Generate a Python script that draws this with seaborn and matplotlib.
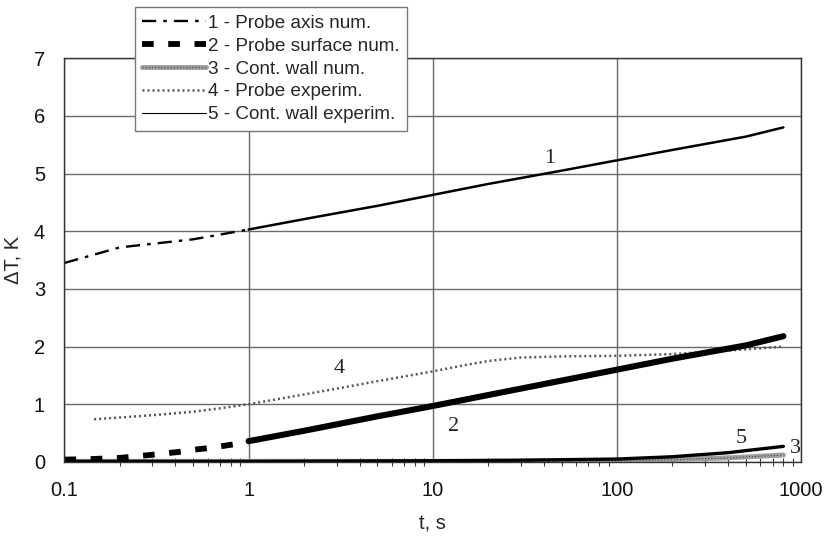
import numpy as np
import pandas as pd
import seaborn as sns
import matplotlib.pyplot as plt
from matplotlib.lines import Line2D

# ----------------------------
# Valori (t in s, dT in K)
# ----------------------------
# 1 - Probe axis num. (tratto rado fino a t=1, poi fitto)
t1_rado = [0.1, 0.2, 0.5, 1.0]
dT1_rado = [3.45, 3.72, 3.86, 4.03]
t1_fitto = [1.0, 2.0, 5.0, 10.0, 20.0, 50.0, 100.0, 200.0, 500.0, 800.0]
dT1_fitto = [4.03, 4.21, 4.44, 4.63, 4.82, 5.05, 5.23, 5.41, 5.64, 5.8]

# 2 - Probe surface num.
t2_rado = [0.1, 0.14, 0.2, 0.29, 0.41, 0.53, 0.65, 0.77, 0.94, 1.0]
dT2_rado = [0.04, 0.05, 0.07, 0.12, 0.17, 0.22, 0.25, 0.29, 0.33, 0.36]
t2_fitto = [1.0, 2.0, 5.0, 10.0, 20.0, 50.0, 100.0, 200.0, 500.0, 800.0]
dT2_fitto = [0.36, 0.54, 0.79, 0.97, 1.16, 1.41, 1.60, 1.79, 2.02, 2.18]

# 3 - Cont. wall num.
t3 = [0.1, 1.0, 10.0, 50.0, 100.0, 200.0, 400.0, 800.0]
dT3 = [0.01, 0.01, 0.01, 0.01, 0.02, 0.04, 0.07, 0.12]

# 4 - Probe experim.
t4 = [0.145, 0.2, 0.3, 0.5, 0.7, 1.0, 2.0, 3.0, 5.0, 10.0, 15.0, 20.0,
      30.0, 50.0, 100.0, 200.0, 400.0, 800.0]
dT4 = [0.74, 0.77, 0.81, 0.87, 0.93, 1.00, 1.17, 1.27, 1.40, 1.57, 1.68,
       1.75, 1.81, 1.83, 1.84, 1.87, 1.93, 2.00]

# 5 - Cont. wall experim.
t5 = [0.1, 1.0, 10.0, 30.0, 100.0, 200.0, 400.0, 800.0]
dT5 = [0.01, 0.01, 0.02, 0.03, 0.05, 0.09, 0.16, 0.27]

legend_labels = ["1 - Probe axis num.", "2 - Probe surface num.",
                 "3 - Cont. wall num.", "4 - Probe experim.",
                 "5 - Cont. wall experim."]

x_ticks = [0.1, 1, 10, 100, 1000]
x_ticklabels = ["0.1", "1", "10", "100", "1000"]
y_ticks = [0, 1, 2, 3, 4, 5, 6, 7]

sns.set_theme(style="white")
plt.rcParams["font.family"] = ["Liberation Sans", "DejaVu Sans"]

fig = plt.figure(figsize=(8.26, 5.39), dpi=100)
ax = fig.add_axes([0.078, 0.143, 0.892, 0.749])


def linea(t, v, **kw):
    sns.lineplot(x=t, y=v, ax=ax, sort=False, estimator=None, legend=False, **kw)
    return ax.lines[-1]


# curva 3 (grigia, "testurizzata")
h3a = linea(t3, dT3, color="#a0a0a0", linewidth=3.6)
h3b = linea(t3, dT3, color="#505050", linewidth=0.9)
h3b.set_dashes((1, 1.5))

# curva 5
h5 = linea(t5, dT5, color="black", linewidth=2.4)

# curva 4
h4 = linea(t4, dT4, color="#555555", linewidth=1.8)
h4.set_dashes((0.8, 1.2))

# curva 2
h2 = linea(t2_rado, dT2_rado, color="black", linewidth=4.2)
h2.set_dashes((2.0, 2.5))
linea(t2_fitto, dT2_fitto, color="black", linewidth=4.4)

# curva 1
h1 = linea(t1_rado, dT1_rado, color="black", linewidth=1.7)
h1.set_dashes((6, 3, 1.5, 3))
linea(t1_fitto, dT1_fitto, color="black", linewidth=1.8)

ax.set_xscale("log")
ax.set_xlim(0.1, 1000)
ax.set_ylim(0, 7)
ax.set_xticks(x_ticks)
ax.set_xticklabels(x_ticklabels)
ax.set_yticks(y_ticks)
ax.grid(True, which="major", color="#6a6a6a", linewidth=1)
ax.tick_params(axis="both", which="major", length=0, labelsize=14.5,
               labelcolor="#111111")
ax.tick_params(axis="x", which="major", pad=14)
ax.tick_params(axis="y", which="major", pad=14)
ax.tick_params(axis="x", which="minor", direction="inout", length=6,
               width=0.8, color="#333333", bottom=True)
for sp in ax.spines.values():
    sp.set_color("#333333")
    sp.set_linewidth(1.0)

ax.set_xlabel("t, s", fontsize=14.5, labelpad=10)
ax.set_ylabel("ΔT, K", fontsize=14.5, labelpad=8)

# etichette numeriche delle curve
serif = dict(family=["Liberation Serif", "DejaVu Serif"], fontsize=16)
ax.text(43, 5.1, "1", ha="center", va="bottom", **serif)
ax.text(13, 0.62, "2", ha="center", va="center", **serif)
ax.text(3.1, 1.62, "4", ha="center", va="center", **serif)
ax.text(470, 0.4, "5", ha="center", va="center", **serif)
ax.text(930, 0.24, "3", ha="center", va="center", **serif)

proxy5 = Line2D([], [], color="black", linewidth=0.8)
fig.legend([h1, h2, (h3a, h3b), h4, proxy5], legend_labels,
           loc="upper left", bbox_to_anchor=(0.163, 0.987),
           fontsize=13.6, frameon=True, fancybox=False, edgecolor="#777777",
           framealpha=1, borderpad=0.4, labelspacing=0.3,
           handlelength=3.4, handletextpad=0.1, borderaxespad=0)

fig.savefig("out.png", dpi=100)
